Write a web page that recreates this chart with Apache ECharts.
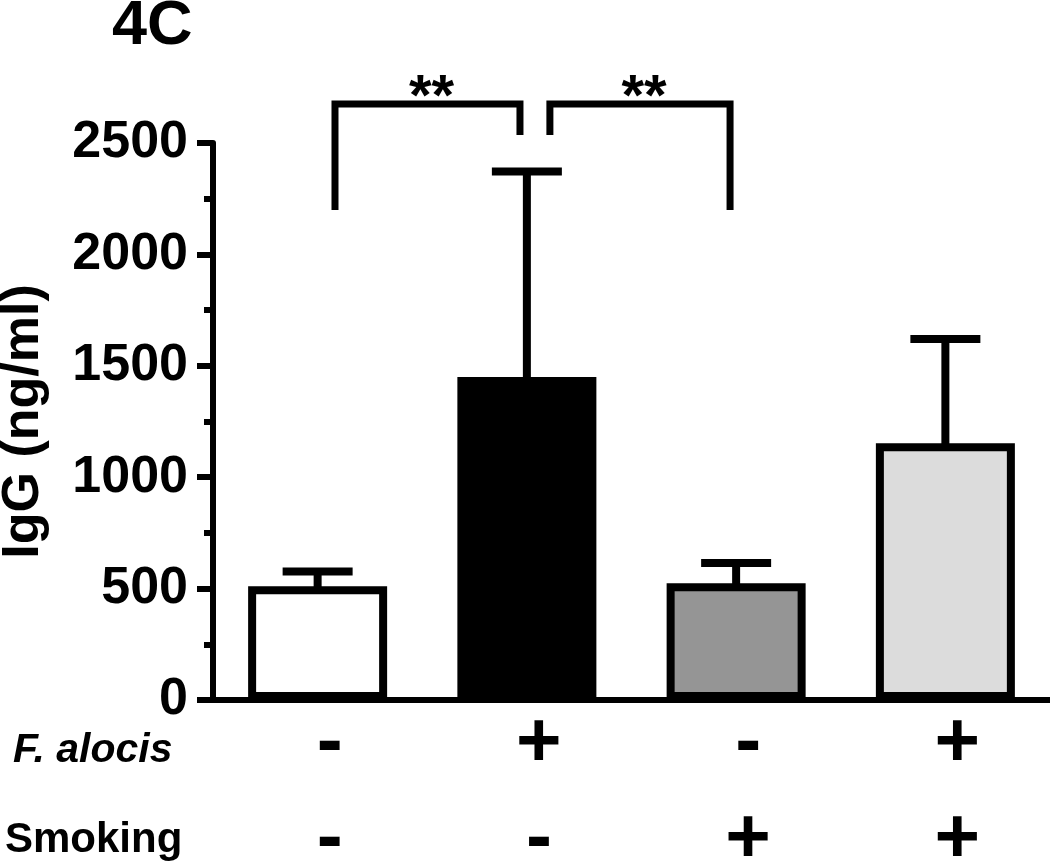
<!DOCTYPE html>
<html>
<head>
<meta charset="utf-8">
<script src="https://cdn.jsdelivr.net/npm/echarts/dist/echarts.min.js"></script>
<style>
html,body{margin:0;padding:0;background:#fff;}
#chart{width:1050px;height:861px;}
</style>
</head>
<body>
<div id="chart"></div>
<script>
// ---- data ----
const categories = ['Control', 'F. alocis', 'Smoking', 'F. alocis + Smoking'];
const fAlocisSigns = ['-', '+', '-', '+'];
const smokingSigns = ['-', '-', '+', '+'];
const meanValues = [510, 1450, 524, 1152];
const upperErrorValues = [577, 2372, 615, 1620];
const barColors = ['#ffffff', '#000000', '#959595', '#dcdcdc'];
const yMin = 0, yMax = 2500, yInterval = 500;
// significance brackets: positions in category units, heights in ng/ml
const bracketFrom = [0.083, 1.110];
const bracketTo = [0.967, 1.971];
const bracketTop = [2675, 2675];
const bracketLeftEnd = [2199, 2536];
const bracketRightEnd = [2536, 2199];
const bracketText = ['**', '**'];

const FONT = "'Liberation Sans', Arial, Helvetica, sans-serif";

const chart = echarts.init(document.getElementById('chart'), null, {renderer: 'canvas'});

const option = {
  animation: false,
  backgroundColor: '#ffffff',
  grid: {left: 213, right: 0, top: 143, bottom: 161, containLabel: false, outerBoundsMode: 'none'},
  graphic: [
    {type: 'text', style: {text: '4C', x: 112, y: 27, font: 'bold 63px ' + FONT, fill: '#000', verticalAlign: 'middle', align: 'left'}},
    {type: 'text', style: {text: 'F. alocis', x: 13, y: 751, font: 'italic bold 41px ' + FONT, fill: '#000', verticalAlign: 'middle', align: 'left'}},
    {type: 'text', style: {text: 'Smoking', x: 5, y: 840, font: 'bold 42px ' + FONT, fill: '#000', verticalAlign: 'middle', align: 'left'}}
  ],
  xAxis: [
    {
      type: 'category',
      data: categories,
      axisLine: {show: true, onZero: false, lineStyle: {color: '#000', width: 6}},
      axisTick: {show: false},
      splitLine: {show: false},
      axisLabel: {
        interval: 0,
        margin: -4,
        padding: [0, 0, 0, 24],
        formatter: function (v, i) {
          return '{s|' + fAlocisSigns[i] + '}\n{s|' + smokingSigns[i] + '}';
        },
        rich: {
          s: {fontSize: 78, fontWeight: 'bold', fontFamily: FONT, color: '#000', lineHeight: 96, align: 'center'}
        }
      }
    },
    {
      type: 'value', min: -0.5, max: 3.5, show: false
    }
  ],
  yAxis: {
    type: 'value',
    min: yMin, max: yMax, interval: yInterval,
    name: 'IgG (ng/ml)',
    nameLocation: 'middle',
    nameGap: 163,
    nameMoveOverlap: false,
    nameTextStyle: {fontSize: 52, fontWeight: 'bold', fontFamily: FONT, color: '#000'},
    axisLine: {show: true, onZero: false, lineStyle: {color: '#000', width: 6}},
    axisTick: {show: true, length: 16, lineStyle: {color: '#000', width: 6}},
    minorTick: {show: true, splitNumber: 2, length: 9, lineStyle: {color: '#000', width: 6}},
    splitLine: {show: false},
    minorSplitLine: {show: false},
    axisLabel: {
      margin: 25, fontSize: 52, fontWeight: 'bold', fontFamily: FONT, color: '#000',
      formatter: function (v) { return String(v); }
    }
  },
  series: [
    {
      type: 'bar',
      xAxisIndex: 0,
      barWidth: 139,
      z: 2,
      data: meanValues.map(function (v, i) {
        return {value: v, itemStyle: {color: barColors[i], borderColor: '#000', borderWidth: 8}};
      })
    },
    {
      type: 'custom',
      xAxisIndex: 0,
      z: 3,
      data: meanValues.map(function (v, i) { return [i, v, upperErrorValues[i]]; }),
      renderItem: function (params, api) {
        const x = api.value(0), v = api.value(1), u = api.value(2);
        const p0 = api.coord([x, v]);
        const p1 = api.coord([x, u]);
        const hw = 35;
        return {
          type: 'group',
          children: [
            {type: 'line', shape: {x1: p0[0], y1: p0[1] + 4, x2: p1[0], y2: p1[1]}, style: {stroke: '#000', lineWidth: 8}},
            {type: 'line', shape: {x1: p1[0] - hw, y1: p1[1], x2: p1[0] + hw, y2: p1[1]}, style: {stroke: '#000', lineWidth: 8}}
          ]
        };
      }
    },
    {
      type: 'custom',
      xAxisIndex: 1,
      z: 4,
      clip: false,
      data: bracketFrom.map(function (f, i) {
        return [f, bracketTo[i], bracketTop[i], bracketLeftEnd[i], bracketRightEnd[i]];
      }),
      renderItem: function (params, api) {
        const f = api.value(0), t = api.value(1), top = api.value(2), le = api.value(3), re = api.value(4);
        const a = api.coord([f, le]);
        const b = api.coord([f, top]);
        const c = api.coord([t, top]);
        const d = api.coord([t, re]);
        return {
          type: 'group',
          children: [
            {type: 'polyline', shape: {points: [a, b, c, d]}, style: {stroke: '#000', lineWidth: 7, fill: null, lineJoin: 'miter'}},
            {type: 'text', style: {text: bracketText[params.dataIndex], x: (b[0] + c[0]) / 2 + 4, y: b[1] - 5, align: 'center', verticalAlign: 'middle', font: 'bold 58px ' + FONT, fill: '#000'}}
          ]
        };
      }
    }
  ]
};
chart.setOption(option);
</script>
</body>
</html>
